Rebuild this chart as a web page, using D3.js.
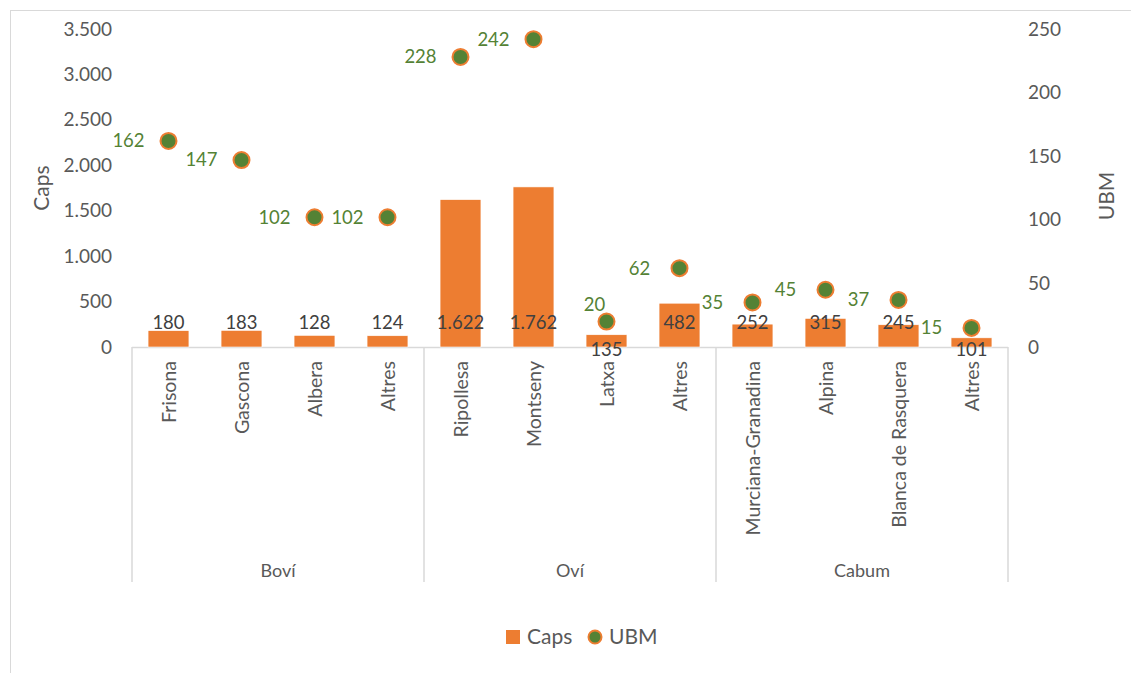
<!DOCTYPE html>
<html>
<head>
<meta charset="utf-8">
<script src="https://cdn.jsdelivr.net/npm/d3@7"></script>
<style>
  body { margin: 0; background: #fff; }
  svg text { font-family: Lato, "Open Sans", sans-serif; }
</style>
</head>
<body>
<div id="graph"></div>
<script>
const groups = ["Boví", "Oví", "Cabum"];
const breeds = ["Frisona", "Gascona", "Albera", "Altres",
  "Ripollesa", "Montseny", "Latxa", "Altres",
  "Murciana-Granadina", "Alpina", "Blanca de Rasquera", "Altres"];
const breedGroup = [0, 0, 0, 0, 1, 1, 1, 1, 2, 2, 2, 2];
const caps = [180, 183, 128, 124, 1622, 1762, 135, 482, 252, 315, 245, 101];
const ubm = [162, 147, 102, 102, 228, 242, 20, 62, 35, 45, 37, 15];
const capsTicks = [0, 500, 1000, 1500, 2000, 2500, 3000, 3500];
const ubmTicks = [0, 50, 100, 150, 200, 250];

const width = 1131;
const height = 673;
const margin = { left: 132, right: 123, top: 29, bottom: 326 };

const orange = "#ED7D31";
const green = "#548235";
const grey = "#595959";
const lineGrey = "#D9D9D9";

let fmt = d3.formatLocale({ decimal: ",", thousands: ".", grouping: [3] }).format(",d");

let data = breeds.map((b, i) => ({ i: i, name: b, group: breedGroup[i], caps: caps[i], ubm: ubm[i] }));

let svg = d3.select('#graph')
  .append('svg')
  .attr('width', width)
  .attr('height', height);

// chart frame
svg.append('rect')
  .attr('x', 10.5).attr('y', 10.5)
  .attr('width', width + 20).attr('height', height + 20)
  .attr('fill', 'none')
  .attr('stroke', lineGrey);

let xScale = d3.scaleBand()
  .domain(d3.range(breeds.length))
  .range([margin.left, width - margin.right])
  .paddingInner(0.44)
  .paddingOuter(0.22);

let yLeft = d3.scaleLinear()
  .domain([0, 3500])
  .range([height - margin.bottom, margin.top]);

let yRight = d3.scaleLinear()
  .domain([0, 250])
  .range([height - margin.bottom, margin.top]);

let baseY = yLeft(0);
let cx = i => xScale(i) + xScale.bandwidth() / 2;

// y axis left
let yAxisL = svg.append('g')
  .attr('transform', `translate(${margin.left - 20}, 0)`)
  .call(d3.axisLeft(yLeft).tickValues(capsTicks).tickFormat(fmt).tickSize(0).tickPadding(0));
yAxisL.select('.domain').remove();
yAxisL.selectAll('text').style('font-size', '19px').attr('fill', grey);

// y axis right
let yAxisR = svg.append('g')
  .attr('transform', `translate(${width - margin.right + 20}, 0)`)
  .call(d3.axisRight(yRight).tickValues(ubmTicks).tickSize(0).tickPadding(0));
yAxisR.select('.domain').remove();
yAxisR.selectAll('text').style('font-size', '19px').attr('fill', grey);

// axis titles
svg.append('text')
  .attr('transform', `translate(49, 188) rotate(-90)`)
  .attr('text-anchor', 'middle')
  .attr('fill', grey)
  .style('font-size', '21px')
  .text('Caps');
svg.append('text')
  .attr('transform', `translate(1114, 196) rotate(-90)`)
  .attr('text-anchor', 'middle')
  .attr('fill', grey)
  .style('font-size', '21px')
  .text('UBM');

// x axis: baseline and group separators
let xr = xScale.range();
let axisBottom = 582;
svg.append('line')
  .attr('x1', xr[0]).attr('x2', xr[1])
  .attr('y1', baseY + 0.5).attr('y2', baseY + 0.5)
  .attr('stroke', lineGrey).attr('stroke-width', 1.5);
groups.forEach((g, gi) => {
  let idx = data.filter(d => d.group === gi).map(d => d.i);
  let x0 = margin.left + (xr[1] - xr[0]) * idx[0] / breeds.length;
  let x1 = margin.left + (xr[1] - xr[0]) * (idx[idx.length - 1] + 1) / breeds.length;
  if (gi === 0) {
    svg.append('line')
      .attr('x1', x0).attr('x2', x0)
      .attr('y1', baseY).attr('y2', axisBottom)
      .attr('stroke', lineGrey).attr('stroke-width', 1.5);
  }
  svg.append('line')
    .attr('x1', x1).attr('x2', x1)
    .attr('y1', baseY).attr('y2', axisBottom)
    .attr('stroke', lineGrey).attr('stroke-width', 1.5);
  svg.append('text')
    .attr('x', (x0 + x1) / 2)
    .attr('y', 577)
    .attr('text-anchor', 'middle')
    .attr('fill', grey)
    .style('font-size', '18px')
    .text(g);
});

// category labels
svg.selectAll('.cat-label').data(data).enter()
  .append('text')
  .attr('class', 'cat-label')
  .attr('transform', d => `translate(${cx(d.i) + 7}, ${baseY + 14}) rotate(-90)`)
  .attr('text-anchor', 'end')
  .attr('fill', grey)
  .style('font-size', '19.5px')
  .text(d => d.name);

// bars
svg.selectAll('.bar').data(data).enter()
  .append('rect')
  .attr('class', 'bar')
  .attr('x', d => xScale(d.i))
  .attr('y', d => yLeft(d.caps))
  .attr('width', xScale.bandwidth())
  .attr('height', d => baseY - yLeft(d.caps))
  .attr('fill', orange)
  .attr('stroke', '#fff')
  .attr('stroke-width', 0.6);

// bar labels
let below = [6, 11];
svg.selectAll('.bar-label').data(data).enter()
  .append('text')
  .attr('class', 'bar-label')
  .attr('x', d => cx(d.i))
  .attr('y', d => below.includes(d.i) ? baseY + 3 : baseY - 24)
  .attr('dy', '0.35em')
  .attr('text-anchor', 'middle')
  .attr('fill', '#404040')
  .style('font-size', '18.5px')
  .text(d => fmt(d.caps));

// points
svg.selectAll('.dot').data(data).enter()
  .append('circle')
  .attr('class', 'dot')
  .attr('cx', d => cx(d.i))
  .attr('cy', d => yRight(d.ubm))
  .attr('r', 8)
  .attr('fill', green)
  .attr('stroke', orange)
  .attr('stroke-width', 2);

// point labels
svg.selectAll('.dot-label').data(data).enter()
  .append('text')
  .attr('class', 'dot-label')
  .attr('x', d => d.i === 6 ? cx(d.i) - 12 : cx(d.i) - 40)
  .attr('y', d => d.i === 6 ? yRight(d.ubm) - 17 : yRight(d.ubm))
  .attr('dy', '0.35em')
  .attr('text-anchor', 'middle')
  .attr('fill', green)
  .style('font-size', '18.5px')
  .text(d => d.ubm);

// legend
let legend = svg.append('g').attr('transform', 'translate(506, 637)');
legend.append('rect')
  .attr('x', 0).attr('y', -7)
  .attr('width', 14).attr('height', 14)
  .attr('fill', orange);
legend.append('text')
  .attr('x', 21).attr('y', 0).attr('dy', '0.35em')
  .attr('fill', grey)
  .style('font-size', '21px')
  .text('Caps');
legend.append('circle')
  .attr('cx', 89).attr('cy', 0).attr('r', 6.5)
  .attr('fill', green)
  .attr('stroke', orange)
  .attr('stroke-width', 2);
legend.append('text')
  .attr('x', 103).attr('y', 0).attr('dy', '0.35em')
  .attr('fill', grey)
  .style('font-size', '21px')
  .text('UBM');
</script>
</body>
</html>
